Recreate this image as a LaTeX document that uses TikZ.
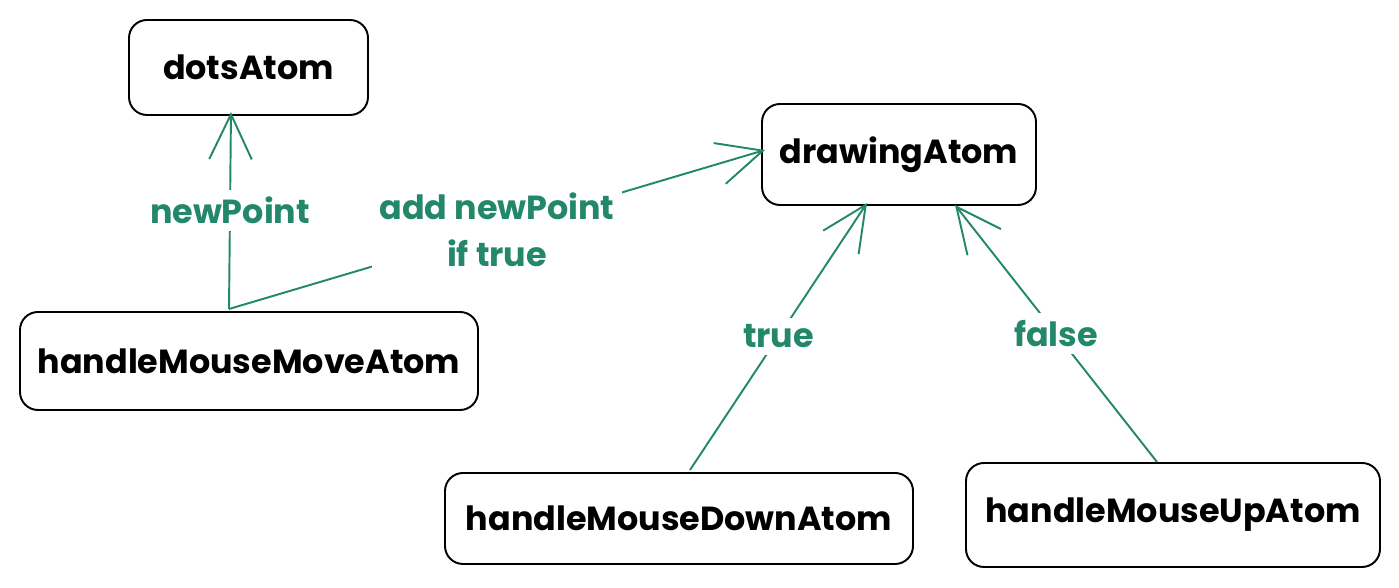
\documentclass[tikz,border=0pt]{standalone}
\usepackage{fontspec}
\setmainfont{Poppins}
\usetikzlibrary{arrows.meta}
\definecolor{atomgreen}{HTML}{23876A}

\begin{document}
\begin{tikzpicture}[
	atom/.style={draw=black, line width=1.1pt, rounded corners=0.36cm, font=\fontsize{19}{23}\selectfont\bfseries},
	flow/.style={draw=atomgreen, line width=1.1pt, -{Straight Barb[length=0.9cm, width=0.85cm, line width=1.1pt]}},
	lbl/.style={fill=white, text=atomgreen, inner sep=4pt, align=center, font=\fontsize{19}{27}\selectfont\bfseries}]
	\useasboundingbox (0,0) rectangle (27.98,11.76);

	\node[atom, minimum width=4.78cm, minimum height=1.9cm] (dotsAtom) at (4.97,10.41) {dotsAtom};
	\node[atom, minimum width=5.48cm, minimum height=2.02cm] (drawingAtom) at (17.98,8.67) {drawingAtom};
	\node[atom, minimum width=9.16cm, minimum height=1.96cm] (moveAtom) at (4.98,4.54) {handleMouseMoveAtom};
	\node[atom, minimum width=9.36cm, minimum height=1.82cm] (downAtom) at (13.58,1.39) {handleMouseDownAtom};
	\node[atom, minimum width=8.28cm, minimum height=2.08cm] (upAtom) at (23.46,1.46) {handleMouseUpAtom};

	% arrow ends
	\coordinate (fork) at (4.58,5.58);
	\coordinate (dotsIn) at (4.62,9.52);
	\coordinate (drawIn) at (15.3,8.76);
	\coordinate (trueIn) at (17.34,7.7);
	\coordinate (falseIn) at (19.1,7.66);
	\coordinate (downOut) at (13.8,2.36);
	\coordinate (upOut) at (23.14,2.52);

	\draw[flow] (fork) -- node[lbl] (newPt) {newPoint} (dotsIn);
	\draw[flow] (fork) -- node[lbl] (addPt) {add newPoint\\if true} (drawIn);
	\draw[flow] (downOut) -- node[lbl] (isTrue) {true} (trueIn);
	\draw[flow] (upOut) -- node[lbl] (isFalse) {false} (falseIn);

\end{tikzpicture}
\end{document}
